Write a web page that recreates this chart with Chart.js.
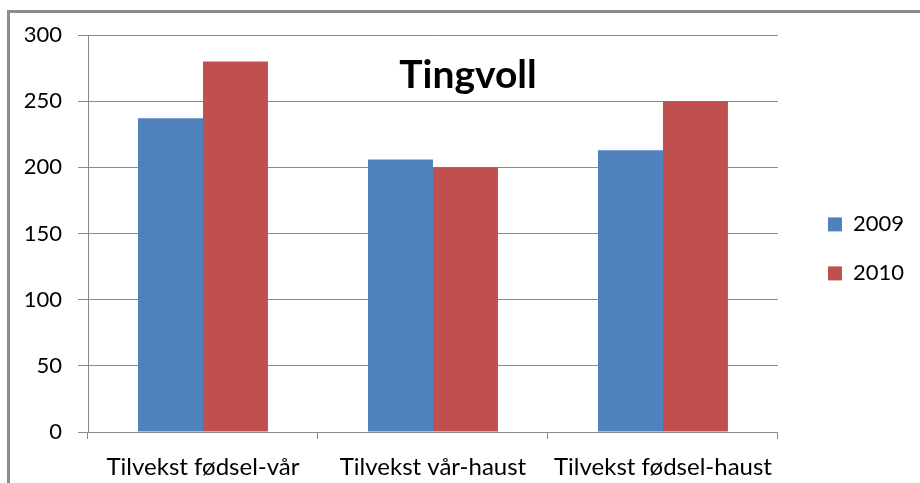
<!DOCTYPE html>
<html>
<head>
<meta charset="utf-8">
<script src="https://cdn.jsdelivr.net/npm/chart.js@4"></script>
<style>
    body { margin: 0; background: #fff; }
    #wrap { position: relative; width: 920px; height: 483px; overflow: hidden; }
    #frame { position: absolute; left: 7px; top: 10px; width: 1000px; height: 1000px;
             border-top: 3px solid #8c8c8c; border-left: 3px solid #8c8c8c; }
    canvas { position: absolute; left: 0; top: 0; }
</style>
</head>
<body>
<div id="wrap">
    <div id="frame"></div>
    <canvas id="barChart" width="920" height="483"></canvas>
</div>
<script>
const categories = ['Tilvekst fødsel-vår', 'Tilvekst vår-haust', 'Tilvekst fødsel-haust'];
const values2009 = [237, 206, 213];
const values2010 = [280, 200, 250];
const yTicks = [0, 50, 100, 150, 200, 250, 300];
const chartTitle = 'Tingvoll';

const FONT = 'Lato, "Open Sans", sans-serif';
const GRID = '#8a8a8a';

/* title drawn over the plot area, like the original */
const overlayTitle = {
    id: 'overlayTitle',
    afterDraw(chart) {
        const ctx = chart.ctx;
        ctx.save();
        ctx.font = 'bold 39px ' + FONT;
        ctx.fillStyle = '#000';
        ctx.textAlign = 'center';
        ctx.textBaseline = 'alphabetic';
        ctx.fillText(chartTitle, chart.width / 2 + 8, chart.chartArea.top + 53);
        ctx.restore();
    }
};

new Chart(document.getElementById('barChart'), {
    type: 'bar',
    data: {
        labels: categories,
        datasets: [
            { label: '2009', data: values2009, backgroundColor: '#4F81BD' },
            { label: '2010', data: values2010, backgroundColor: '#C0504D' }
        ]
    },
    options: {
        responsive: false,
        animation: false,
        devicePixelRatio: 1,
        layout: { padding: { top: 35, left: 0, right: 6, bottom: 0 } },
        datasets: { bar: { categoryPercentage: 0.565, barPercentage: 1.0 } },
        plugins: {
            title: { display: false },
            tooltip: { enabled: false },
            legend: {
                position: 'right',
                align: 'start',
                // empty title only to push the legend items down
                title: { display: true, text: '', font: { size: 12 }, padding: { top: 137, bottom: 0 } },
                labels: {
                    font: { family: FONT, size: 22 },
                    color: '#000',
                    boxWidth: 14,
                    boxHeight: 14,
                    padding: 27
                }
            }
        },
        scales: {
            x: {
                grid: { drawOnChartArea: false, drawTicks: true, tickLength: 7, color: GRID },
                border: { color: GRID },
                ticks: { font: { family: FONT, size: 24 }, color: '#000', padding: 14, maxRotation: 0 },
                afterFit(scale) { scale.height = 51; }
            },
            y: {
                min: 0,
                max: 300,
                afterBuildTicks(scale) { scale.ticks = yTicks.map(v => ({ value: v })); },
                grid: { color: GRID, tickLength: 10 },
                border: { color: GRID },
                ticks: { font: { family: FONT, size: 22 }, color: '#000', padding: 16 },
                afterFit(scale) { scale.width = 88; }
            },
            spacer: {
                position: 'right',
                grid: { display: false },
                border: { display: false },
                ticks: { display: false },
                afterFit(scale) { scale.width = 23; }
            }
        }
    },
    plugins: [overlayTitle]
});
</script>
</body>
</html>
